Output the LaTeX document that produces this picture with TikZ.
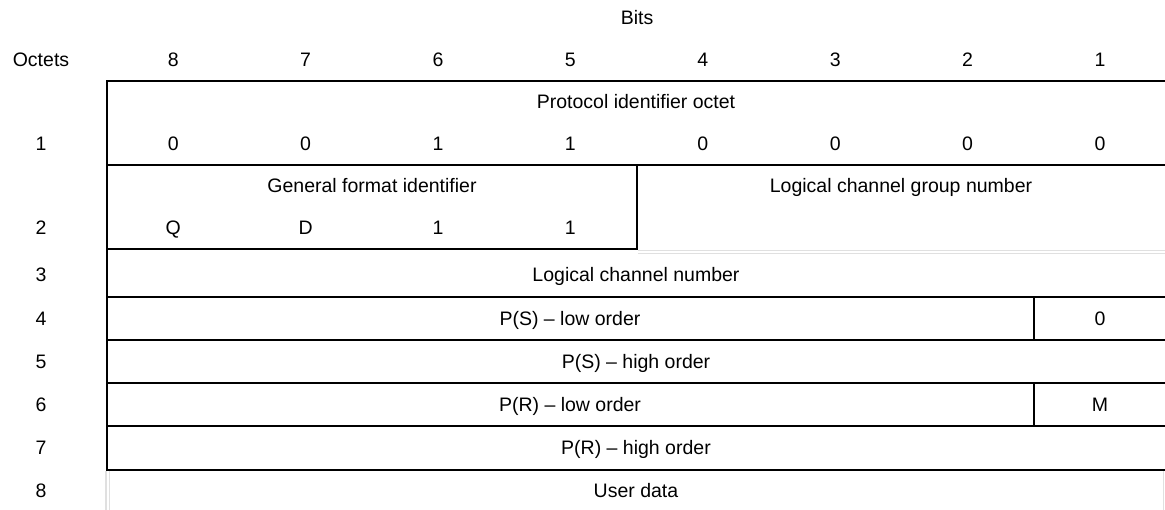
\documentclass[tikz,border=0pt]{standalone}
\usepackage{fontspec}
\setmainfont{Liberation Sans}
\begin{document}
\begin{tikzpicture}[x=1pt,y=-1pt,
  txt/.style={inner sep=0pt,anchor=center,text height=14pt,text depth=0pt,
    font=\fontsize{19.5}{22}\selectfont},
  rule/.style={line width=1.6pt,black},
  ghost/.style={line width=1.2pt,black!12}]
\useasboundingbox[fill=white] (0,0) rectangle (1165,510);
% header
\node[txt] (bits) at (637,18) {Bits};
\node[txt] (octets) at (41,60) {Octets};
\foreach \b [count=\i from 0] in {8,7,6,5,4,3,2,1}
  \node[txt] (h\b) at ({173.2+132.4*\i},60) {\b};
% octet labels
\node[txt] (o1) at (41,144) {1};
\node[txt] (o2) at (41,228) {2};
\node[txt] (o3) at (41,275) {3};
\node[txt] (o4) at (41,319) {4};
\node[txt] (o5) at (41,362) {5};
\node[txt] (o6) at (41,405) {6};
\node[txt] (o7) at (41,448) {7};
\node[txt] (o8) at (41,490) {8};
% row 1
\node[txt] (pid) at (636,102) {Protocol identifier octet};
\foreach \v [count=\i from 0] in {0,0,1,1,0,0,0,0}
  \node[txt] (p\i) at ({173.2+132.4*\i},144) {\v};
% row 2
\node[txt] (gfi) at (372,186) {General format identifier};
\node[txt] (lcgn) at (901,186) {Logical channel group number};
\foreach \v [count=\i from 0] in {Q,D,1,1}
  \node[txt] (g\i) at ({173.2+132.4*\i},228) {\v};
% rows 3-8
\node[txt] (lcn) at (636,275) {Logical channel number};
\node[txt] (psl) at (570,319) {P(S) -- low order};
\node[txt] (z0) at (1100,319) {0};
\node[txt] (psh) at (636,362) {P(S) -- high order};
\node[txt] (prl) at (570,405) {P(R) -- low order};
\node[txt] (mm) at (1100,405) {M};
\node[txt] (prh) at (636,448) {P(R) -- high order};
\node[txt] (ud) at (636,490) {User data};
% table rules
\draw[rule] (107,470) -- (107,81) -- (1165,81);
\draw[rule] (107,165) -- (1165,165);
\draw[rule] (637,165) -- (637,249) -- (107,249);
\draw[rule] (107,297) -- (1165,297);
\draw[rule] (107,340) -- (1165,340);
\draw[rule] (107,383) -- (1165,383);
\draw[rule] (107,426) -- (1165,426);
\draw[rule] (106,470) -- (1165,470);
\draw[rule] (1034,297) -- (1034,340);
\draw[rule] (1034,383) -- (1034,426);
% faint double rules
\draw[ghost] (638,250.2) -- (1165,250.2);
\draw[ghost] (638,253.2) -- (1165,253.2);
\draw[ghost] (106,471) -- (106,510);
\draw[ghost] (109.5,471) -- (109.5,510);
\draw[ghost] (1163.5,471) -- (1163.5,510);
\end{tikzpicture}
\end{document}
